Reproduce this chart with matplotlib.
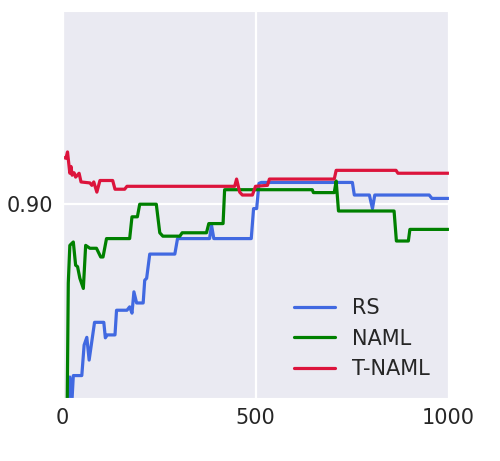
import matplotlib
matplotlib.use('Agg')
import matplotlib.pyplot as plt
import seaborn as sns

sns.set_style('darkgrid')
plt.rcParams['font.family'] = ['DejaVu Sans']

# RS (random search)
rs_x = [13, 19, 24, 28, 50, 56, 63, 69, 83, 107, 111, 116, 136, 140, 167, 174, 180, 185, 192, 209,
        213, 218, 226, 291, 298, 381, 386, 392, 489, 495, 503, 509, 515, 751, 756, 795, 803, 809,
        950, 957, 1000]
rs_y = [0.8575, 0.8643, 0.8586, 0.8646, 0.8646, 0.8709, 0.8725, 0.8678, 0.8756, 0.8756, 0.8724,
        0.8730, 0.8730, 0.8781, 0.8781, 0.8788, 0.8775, 0.8819, 0.8796, 0.8796, 0.8843, 0.8847,
        0.8897, 0.8897, 0.8929, 0.8929, 0.8957, 0.8929, 0.8929, 0.8991, 0.8991, 0.9043, 0.9045,
        0.9045, 0.9019, 0.9019, 0.8991, 0.9019, 0.9019, 0.9012, 0.9012]

# NAML
naml_x = [12, 15, 19, 28, 34, 39, 45, 54, 60, 71, 88, 99, 105, 114, 174, 180, 194, 200, 243, 252,
          260, 304, 310, 373, 379, 416, 420, 647, 650, 704, 709, 715, 859, 865, 896, 900, 1000]
naml_y = [0.8575, 0.8837, 0.8915, 0.8922, 0.8874, 0.8871, 0.8847, 0.8826, 0.8915, 0.8909, 0.8909,
          0.8891, 0.8891, 0.8929, 0.8929, 0.8974, 0.8974, 0.9000, 0.9000, 0.8941, 0.8934, 0.8934,
          0.8941, 0.8941, 0.8960, 0.8960, 0.9030, 0.9030, 0.9024, 0.9024, 0.9048, 0.8986, 0.8986,
          0.8924, 0.8924, 0.8948, 0.8948]

# T-NAML
tnaml_x = [1, 9, 13, 19, 22, 25, 30, 34, 43, 48, 71, 76, 81, 89, 97, 130, 136, 161, 167, 446, 451,
           459, 466, 492, 500, 531, 536, 704, 709, 864, 869, 1000]
tnaml_y = [0.9097, 0.9095, 0.9108, 0.9064, 0.9078, 0.9060, 0.9065, 0.9056, 0.9064, 0.9046, 0.9044,
           0.9039, 0.9046, 0.9025, 0.9049, 0.9049, 0.9031, 0.9031, 0.9037, 0.9037, 0.9052, 0.9025,
           0.9019, 0.9019, 0.9037, 0.9039, 0.9052, 0.9052, 0.9070, 0.9070, 0.9064, 0.9064]

fig = plt.figure(figsize=(5, 4.61), dpi=100)
ax = fig.add_axes([0.125, 0.137, 0.772, 0.840])

ax.plot(rs_x, rs_y, color='royalblue', lw=2.3, label='RS')
ax.plot(naml_x, naml_y, color='green', lw=2.3, label='NAML')
ax.plot(tnaml_x, tnaml_y, color='crimson', lw=2.3, label='T-NAML')

ax.set_xlim(0, 1000)
ax.set_ylim(0.86, 0.94)
ax.set_xticks([0, 500, 1000])
ax.set_yticks([0.90])
ax.set_yticklabels(['0.90'])
ax.grid(True, color='white', lw=1.6)
ax.tick_params(labelsize=15)
ax.legend(loc='lower right', fontsize=15, frameon=False)

plt.savefig('out.png', dpi=100)
